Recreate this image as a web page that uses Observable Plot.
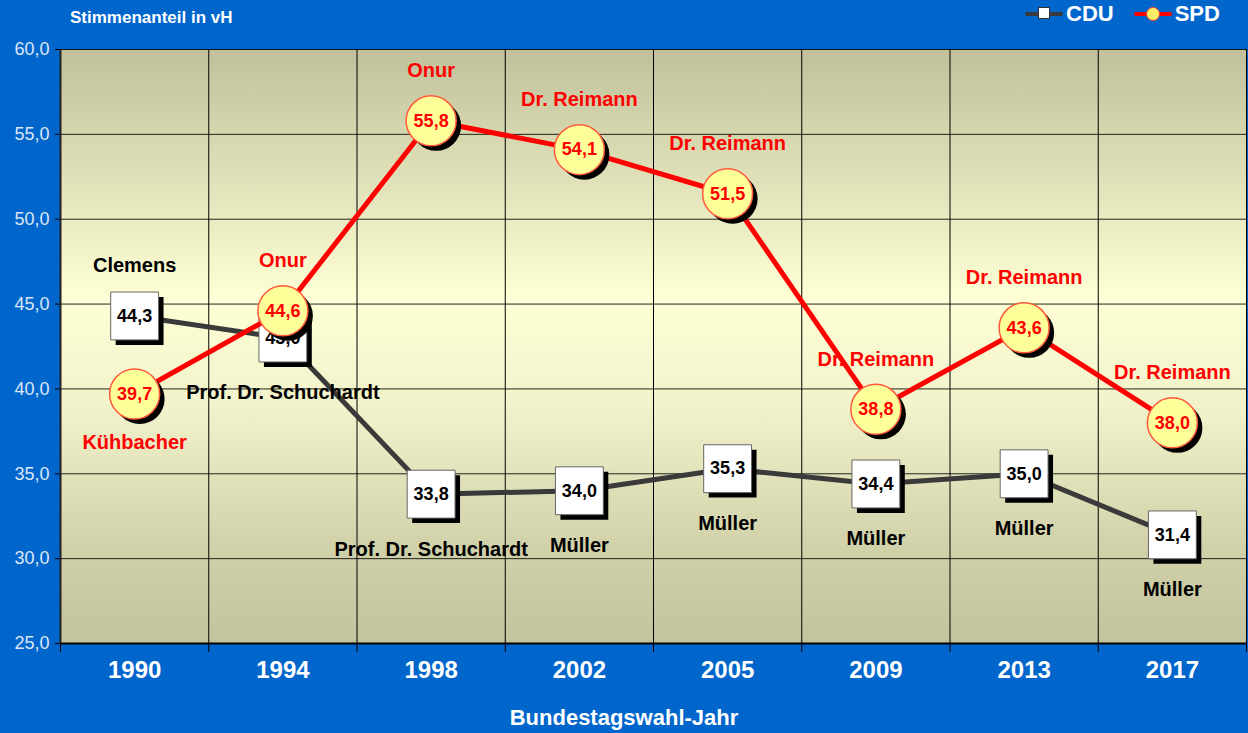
<!DOCTYPE html>
<html>
<head>
<meta charset="utf-8">
<script src="https://cdn.jsdelivr.net/npm/d3@7"></script>
<script src="https://cdn.jsdelivr.net/npm/@observablehq/plot@0.6"></script>
<style>
  html, body { margin: 0; padding: 0; background: #0066CC; }
  #wrap { position: relative; width: 1248px; height: 733px; overflow: hidden; font-family: Arial, "Liberation Sans", sans-serif; }
  #title { position: absolute; left: 70px; top: 8px; color: #fff; font-weight: bold; font-size: 17px; }
  #legend { position: absolute; left: 1025px; top: 1px; height: 26px; display: flex; align-items: center; color: #fff; font-weight: bold; font-size: 22px; }
  .sw { position: relative; width: 38px; height: 26px; margin-right: 3px; }
  .sw .ln { position: absolute; left: 0; right: 0; top: 11px; height: 4px; border-radius: 2px; }
  .sw .mk { position: absolute; }
  #chart { position: absolute; left: 0; top: 0; }
  #xlabel { position: absolute; left: 0; width: 1248px; top: 705px; text-align: center; color: #fff; font-weight: bold; font-size: 22px; }
</style>
</head>
<body>
<div id="wrap">
  <div id="chart"></div>
  <div id="title">Stimmenanteil in vH</div>
  <div id="legend"></div>
  <div id="xlabel">Bundestagswahl-Jahr</div>
</div>
<script>
// ---- data ----
const years = ["1990", "1994", "1998", "2002", "2005", "2009", "2013", "2017"];
const cduValues = [44.3, 43.0, 33.8, 34.0, 35.3, 34.4, 35.0, 31.4];
const spdValues = [39.7, 44.6, 55.8, 54.1, 51.5, 38.8, 43.6, 38.0];
const cduNames = ["Clemens", "Prof. Dr. Schuchardt", "Prof. Dr. Schuchardt", "Müller", "Müller", "Müller", "Müller", "Müller"];
const spdNames = ["Kühbacher", "Onur", "Onur", "Dr. Reimann", "Dr. Reimann", "Dr. Reimann", "Dr. Reimann", "Dr. Reimann"];
const cduNameSide = ["above", "below", "below", "below", "below", "below", "below", "below"];
const spdNameSide = ["below", "above", "above", "above", "above", "above", "above", "above"];
const yTicks = [25, 30, 35, 40, 45, 50, 55, 60];
const seriesNames = ["CDU", "SPD"];

// ---- tables ----
const cdu = years.map((y, i) => ({i, year: y, v: cduValues[i], name: cduNames[i], side: cduNameSide[i]}));
const spd = years.map((y, i) => ({i, year: y, v: spdValues[i], name: spdNames[i], side: spdNameSide[i]}));
const bounds = years.map((_, i) => i - 0.5).concat([years.length - 0.5]);
const fmt = v => v.toFixed(1).replace(".", ",");

const font = "Arial, 'Liberation Sans', sans-serif";
const cduLine = "#3a3a3a", spdRed = "#ff0000";

const chart = Plot.plot({
  width: 1248,
  height: 733,
  marginTop: 49,
  marginLeft: 60,
  marginRight: 2,
  marginBottom: 90,
  style: {background: "transparent", fontFamily: font, overflow: "visible"},
  x: {domain: [-0.5, years.length - 0.5], axis: null},
  y: {domain: [25, 60], axis: null},
  marks: [
    Plot.frame({fill: "url(#bggrad)", stroke: null}),
    Plot.ruleY(yTicks, {stroke: "#000", strokeWidth: 1, strokeOpacity: 0.85}),
    Plot.ruleX(bounds, {y1: 25, y2: 60, stroke: "#000", strokeWidth: 1}),
    Plot.axisY({ticks: yTicks, tickFormat: fmt, tickSize: 5, tickPadding: 6, fontSize: 18, fill: "#dce6f4", stroke: "#000", label: null}),
    Plot.axisX({ticks: bounds, tickSize: 9, tickFormat: () => "", stroke: "#000", label: null}),
    Plot.axisX({ticks: years.map((_, i) => i), tickSize: 0, tickPadding: 17, tickFormat: i => years[i], fontSize: 24, fontWeight: "bold", fill: "#fff", label: null}),
    Plot.ruleY([25], {stroke: "#000", strokeWidth: 2}),
    Plot.ruleX([-0.5], {y1: 25, y2: 60, stroke: "#222", strokeWidth: 2}),

    // CDU
    Plot.line(cdu, {x: "i", y: "v", stroke: cduLine, strokeWidth: 5}),
    Plot.dot(cdu, {x: "i", y: "v", symbol: "square", r: 27, fill: "#000", dx: 5, dy: 5}),
    Plot.dot(cdu, {x: "i", y: "v", symbol: "square", r: 27, fill: "#fff", stroke: "#666", strokeWidth: 1}),
    Plot.text(cdu, {x: "i", y: "v", text: d => fmt(d.v), fill: "#000", fontSize: 18, fontWeight: "bold"}),
    Plot.text(cdu, {filter: d => d.side === "above", x: "i", y: "v", text: "name", dy: -50, fill: "#000", fontSize: 20, fontWeight: "bold"}),
    Plot.text(cdu, {filter: d => d.side === "below", x: "i", y: "v", text: "name", dy: 55, fill: "#000", fontSize: 20, fontWeight: "bold"}),

    // SPD
    Plot.line(spd, {x: "i", y: "v", stroke: spdRed, strokeWidth: 5}),
    Plot.dot(spd, {x: "i", y: "v", r: 25, fill: "#000", dx: 5, dy: 5}),
    Plot.dot(spd, {x: "i", y: "v", r: 25, fill: "#ffff99", stroke: "#ff5a3c", strokeWidth: 1.5}),
    Plot.text(spd, {x: "i", y: "v", text: d => fmt(d.v), fill: spdRed, fontSize: 18, fontWeight: "bold"}),
    Plot.text(spd, {filter: d => d.side === "above", x: "i", y: "v", text: "name", dy: -50, fill: spdRed, fontSize: 20, fontWeight: "bold"}),
    Plot.text(spd, {filter: d => d.side === "below", x: "i", y: "v", text: "name", dy: 49, fill: spdRed, fontSize: 20, fontWeight: "bold"})
  ]
});

// gradient for plot area
const svg = d3.select(chart.tagName.toLowerCase() === "svg" ? chart : chart.querySelector("svg"));
const grad = svg.insert("defs", ":first-child").append("linearGradient")
  .attr("id", "bggrad").attr("x1", 0).attr("y1", 0).attr("x2", 0).attr("y2", 1);
[[0, "#c0c09b"], [0.2, "#dedeb6"], [0.42, "#ffffd6"], [0.6, "#f2f2cb"], [0.85, "#cfcfa8"], [1, "#c3c39e"]]
  .forEach(([o, c]) => grad.append("stop").attr("offset", o).attr("stop-color", c));

document.getElementById("chart").appendChild(chart);

// legend
const legend = document.getElementById("legend");
seriesNames.forEach((name, k) => {
  const sw = document.createElement("div");
  sw.className = "sw";
  const ln = document.createElement("div");
  ln.className = "ln";
  ln.style.background = k === 0 ? cduLine : spdRed;
  const mk = document.createElement("div");
  mk.className = "mk";
  if (k === 0) {
    Object.assign(mk.style, {left: "13px", top: "6px", width: "12px", height: "12px", background: "#fff", border: "1px solid #333", boxSizing: "border-box"});
  } else {
    Object.assign(mk.style, {left: "12px", top: "6px", width: "14px", height: "14px", background: "#ffee66", border: "1.5px solid #ff4422", borderRadius: "50%", boxSizing: "border-box"});
  }
  sw.appendChild(ln); sw.appendChild(mk);
  const t = document.createElement("span");
  t.textContent = name;
  t.style.marginRight = k === 0 ? "20px" : "0";
  legend.appendChild(sw); legend.appendChild(t);
});
</script>
</body>
</html>
